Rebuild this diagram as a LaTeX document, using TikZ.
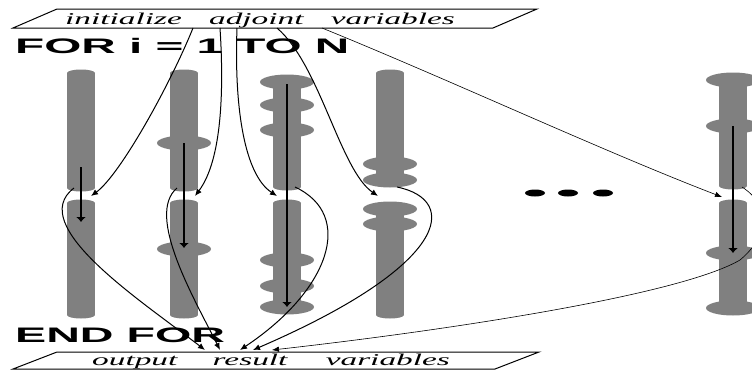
\documentclass[tikz,border=0pt]{standalone}
\usepackage{fontspec}
\setmainfont{Liberation Serif}
\newfontfamily\hsans{Liberation Sans}
\usetikzlibrary{arrows.meta}
\definecolor{cylgray}{RGB}{128,128,128}
\tikzset{
  cylfill/.style={fill=cylgray},
  diskfill/.style={fill=cylgray},
  conn/.style={line width=1pt, -{Latex[length=7pt,width=6pt]}},
  thinconn/.style={line width=0.6pt, -{Latex[length=7pt,width=5.5pt]}},
  innerarrow/.style={line width=1.3pt, -{Latex[length=5pt,width=10pt]}},
  para/.style={line width=1pt},
  ittext/.style={anchor=base west, inner sep=0pt, font=\fontsize{16.5}{16.5}\selectfont\itshape},
  bigtext/.style={anchor=base west, inner sep=0pt, font=\hsans\bfseries\fontsize{21}{21}\selectfont},
}
\newcommand{\cylseg}[3]{%
  \fill[cylfill] ({#1-14},#2) rectangle ({#1+14},#3);
  \fill[cylfill] (#1,#2) ellipse [x radius=14pt,y radius=3.5pt];
  \fill[cylfill] (#1,#3) ellipse [x radius=14pt,y radius=3.5pt];}
\newcommand{\cyldisk}[2]{\fill[diskfill] (#1,#2) ellipse [x radius=27pt,y radius=7.5pt];}
\begin{document}
\begin{tikzpicture}[x=1pt,y=-1pt]
\useasboundingbox (0,0) rectangle (752,372);
\clip (0,0) rectangle (752,372);
% column 1
\cylseg{81}{73}{188}
\cylseg{81}{203}{315}
% column 2
\cylseg{184}{73}{188}
\cyldisk{184}{143}
\cylseg{184}{203}{315}
\cyldisk{184}{249}
% column 3
\cylseg{287}{80}{187}
\cyldisk{287}{82}\cyldisk{287}{105}\cyldisk{287}{130}
\cylseg{287}{203}{307}
\cyldisk{287}{260}\cyldisk{287}{286}\cyldisk{287}{307}
% column 4
\cylseg{390}{73}{180}
\cyldisk{390}{164}\cyldisk{390}{180}
\cylseg{390}{209}{315}
\cyldisk{390}{209}\cyldisk{390}{224}
% column 5
\cylseg{733}{80}{186}
\cyldisk{733}{80}\cyldisk{733}{126}
\cylseg{733}{203}{308}
\cyldisk{733}{253}\cyldisk{733}{308}
% dots
\foreach \dx in {535,568,603} \fill (\dx,193) ellipse [x radius=10pt,y radius=3.5pt];
% parallelograms
\draw[para] (13,28) -- (57,9) -- (537,9) -- (493,28) -- cycle;
\draw[para] (13,369) -- (57,352) -- (539,352) -- (495,369) -- cycle;
\node[ittext] (init) at (65,24) {\scalebox{2.02}[1]{initialize\hspace{13.5pt}adjoint\hspace{13.5pt}variables}};
\node[ittext] (outp) at (92,365) {\scalebox{2.02}[1]{output\hspace{17.5pt}result\hspace{19pt}variables}};
\node[bigtext] (for) at (15,53) {\scalebox{2.27}[1]{FOR i = 1 TO N}};
\node[bigtext] (endfor) at (15,342) {\scalebox{2.22}[1]{END FOR}};
% coordinates
\coordinate (s1) at (193,28); \coordinate (s2) at (220,28); \coordinate (s3) at (237,28);
\coordinate (s4) at (277,28); \coordinate (s5) at (322,28);
\coordinate (g1) at (91,196); \coordinate (g2) at (195,196); \coordinate (g3) at (277,196);
\coordinate (g4) at (378,196); \coordinate (g5) at (722,197);
\coordinate (u1) at (74,188); \coordinate (u2) at (177,188); \coordinate (u3) at (295,187);
\coordinate (u4) at (397,187); \coordinate (u5) at (742,187);
\coordinate (e1) at (205,350); \coordinate (e2) at (220,350); \coordinate (e3) at (240,350);
\coordinate (e4) at (253,350); \coordinate (e5) at (272,350);
\coordinate (a1s) at (81,167); \coordinate (a1e) at (81,222);
\coordinate (a2s) at (184,143); \coordinate (a2e) at (184,248);
\coordinate (a3s) at (287,84); \coordinate (a3e) at (287,307);
\coordinate (a5s) at (733,126); \coordinate (a5e) at (733,253);
\coordinate (m5) at (740,260);
% inner arrows
\draw[innerarrow] (a1s) -- (a1e);
\draw[innerarrow] (a2s) -- (a2e);
\draw[innerarrow] (a3s) -- (a3e);
\draw[innerarrow] (a5s) -- (a5e);
% top arrows
\draw[conn] (s1) .. controls (170,85) and (120,175) .. (g1);
\draw[conn] (s2) .. controls (224,90) and (222,160) .. (g2);
\draw[conn] (s3) .. controls (234,110) and (245,175) .. (g3);
\draw[conn] (s4) .. controls (320,65) and (340,170) .. (g4);
\draw[thinconn] (s5) .. controls (450,80) and (600,150) .. (g5);
% bottom arrows
\draw[conn] (u1) .. controls (25,225) and (140,300) .. (e1);
\draw[conn] (u2) .. controls (145,215) and (195,300) .. (e2);
\draw[conn] (u3) .. controls (355,215) and (330,290) .. (e3);
\draw[conn] (u4) .. controls (460,200) and (450,265) .. (e4);
\draw[thinconn] (u5) .. controls (770,205) and (770,235) .. (m5) .. controls (680,295) and (450,330) .. (e5);
\end{tikzpicture}
\end{document}
